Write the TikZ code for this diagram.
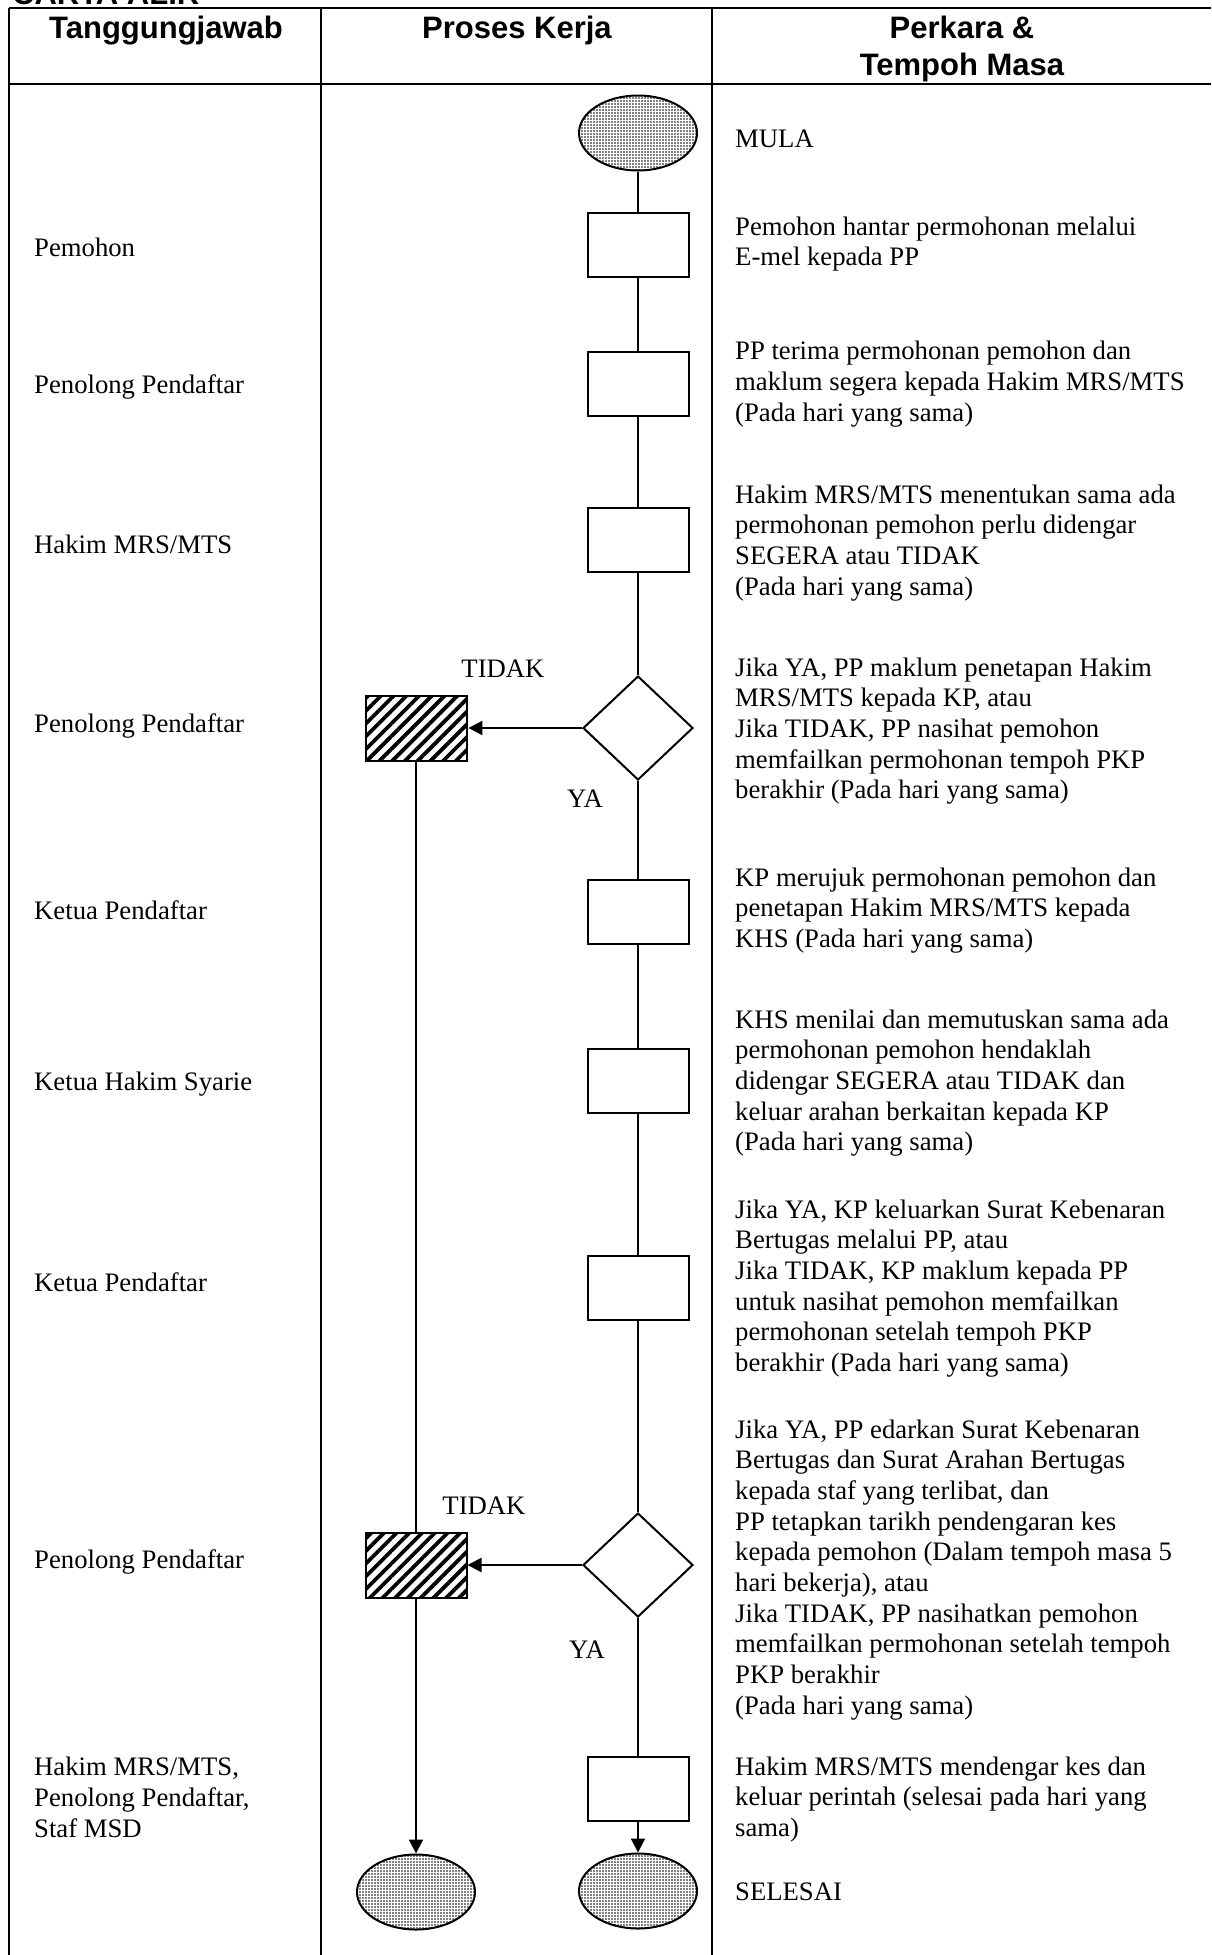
\documentclass[tikz,border=0pt]{standalone}
\usepackage{fontspec}
\setmainfont{Liberation Serif}
\newfontfamily\hdrfont{Liberation Sans}
\usetikzlibrary{shapes.geometric,arrows.meta,patterns.meta}

\begin{document}
\begin{tikzpicture}[x=1pt,y=-1pt,
  tbl/.style={line width=2.6pt},
  flow/.style={line width=2pt},
  proc/.style={draw,line width=2pt,rectangle,minimum width=101pt,minimum height=64pt,inner sep=0pt},
  hatch/.style={proc,minimum height=65pt,pattern={Lines[angle=45,distance=9pt,line width=3.8pt]}},
  term/.style={draw,line width=2pt,ellipse,minimum width=118pt,minimum height=75pt,inner sep=0pt,pattern={Dots[distance=3pt,radius=0.8pt]}},
  dec/.style={draw,line width=2pt,diamond,aspect=1.06,minimum width=110pt,minimum height=104pt,inner sep=0pt},
  body/.style={font=\fontsize{26.7pt}{30.67pt}\selectfont,inner sep=0pt},
  desc/.style={body,anchor=north west,align=left},
  lbl/.style={body,anchor=center},
  hdr/.style={font=\hdrfont\bfseries\fontsize{31pt}{35.6pt}\selectfont,inner sep=0pt,anchor=base},
  arr/.style={flow,-{Triangle[length=14pt,width=14pt]}}
]
\useasboundingbox (0,0) rectangle (1211,1955);
\fill[white] (0,0) rectangle (1211,1955);
\begin{scope}
\clip (0,0) rectangle (1211,1955);
\node[hdr,anchor=base west] (title) at (12,4) {CARTA ALIR};
\end{scope}

% table
\draw[tbl] (9,8) -- (1211,8);
\draw[tbl] (9,84) -- (1211,84);
\draw[tbl] (9,8) -- (9,1955);
\draw[tbl] (321,8) -- (321,1955);
\draw[tbl] (712,8) -- (712,1955);

% headers
\node[hdr] (h1) at (166,38) {Tanggungjawab};
\node[hdr] (h2) at (517,38) {Proses Kerja};
\node[hdr] (h3a) at (962,38) {Perkara \&};
\node[hdr] (h3b) at (962,75) {Tempoh Masa};

% flow nodes
\node[term] (start) at (638,133) {};
\node[proc] (b1) at (638,245) {};
\node[proc] (b2) at (638,383.5) {};
\node[proc] (b3) at (638,540) {};
\node[dec] (d1) at (638,728) {};
\node[hatch] (x1) at (416,728) {};
\node[proc] (b4) at (638,912) {};
\node[proc] (b5) at (638,1080.5) {};
\node[proc] (b6) at (638,1287.5) {};
\node[dec] (d2) at (638,1565) {};
\node[hatch] (x2) at (416,1565) {};
\node[proc] (b7) at (638,1788.5) {};
\node[term] (endL) at (416,1892) {};
\node[term] (endR) at (638,1891) {};

% connectors
\draw[flow] (start) -- (b1);
\draw[flow] (b1) -- (b2);
\draw[flow] (b2) -- (b3);
\draw[flow] (b3) -- (d1.north);
\draw[arr] (d1.west) -- (x1.east);
\draw[flow] (d1.south) -- (b4);
\draw[flow] (b4) -- (b5);
\draw[flow] (b5) -- (b6);
\draw[flow] (b6) -- (d2.north);
\draw[arr] (d2.west) -- (x2.east);
\draw[flow] (d2.south) -- (b7);
\draw[arr] (b7) -- (endR);
\draw[flow] (x1) -- (x2);
\draw[arr] (x2) -- (endL);

% decision labels
\node[lbl] (n1) at (503,669) {TIDAK};
\node[lbl] (y1) at (585,799) {YA};
\node[lbl] (n2) at (484,1506) {TIDAK};
\node[lbl] (y2) at (587,1650) {YA};

% responsibility column
\node[desc] (r1) at (34,235) {\strut Pemohon};
\node[desc] (r2) at (34,372) {\strut Penolong Pendaftar};
\node[desc] (r3) at (34,532) {\strut Hakim MRS/MTS};
\node[desc] (r4) at (34,711) {\strut Penolong Pendaftar};
\node[desc] (r5) at (34,898) {\strut Ketua Pendaftar};
\node[desc] (r6) at (34,1069) {\strut Ketua Hakim Syarie};
\node[desc] (r7) at (34,1270) {\strut Ketua Pendaftar};
\node[desc] (r8) at (34,1547) {\strut Penolong Pendaftar};
\node[desc] (r9) at (34,1754) {\strut Hakim MRS/MTS,\\Penolong Pendaftar,\\Staf MSD};

% description column
\node[desc] (t1) at (735,125.5) {\strut MULA};
\node[desc] (t2) at (735,213.5) {\strut Pemohon hantar permohonan melalui\\E-mel kepada PP};
\node[desc] (t3) at (735,338) {\strut PP terima permohonan pemohon dan\\maklum segera kepada Hakim MRS/MTS\\(Pada hari yang sama)};
\node[desc] (t4) at (735,481.5) {\strut Hakim MRS/MTS menentukan sama ada\\permohonan pemohon perlu didengar\\SEGERA atau TIDAK\\(Pada hari yang sama)};
\node[desc] (t5) at (735,654.5) {\strut Jika YA, PP maklum penetapan Hakim\\MRS/MTS kepada KP, atau\\Jika TIDAK, PP nasihat pemohon\\memfailkan permohonan tempoh PKP\\berakhir (Pada hari yang sama)};
\node[desc] (t6) at (735,864.5) {\strut KP merujuk permohonan pemohon dan\\penetapan Hakim MRS/MTS kepada\\KHS (Pada hari yang sama)};
\node[desc] (t7) at (735,1006.5) {\strut KHS menilai dan memutuskan sama ada\\permohonan pemohon hendaklah\\didengar SEGERA atau TIDAK dan\\keluar arahan berkaitan kepada KP\\(Pada hari yang sama)};
\node[desc] (t8) at (735,1196.5) {\strut Jika YA, KP keluarkan Surat Kebenaran\\Bertugas melalui PP, atau\\Jika TIDAK, KP maklum kepada PP\\untuk nasihat pemohon memfailkan\\permohonan setelah tempoh PKP\\berakhir (Pada hari yang sama)};
\node[desc] (t9) at (735,1416.5) {\strut Jika YA, PP edarkan Surat Kebenaran\\Bertugas dan Surat Arahan Bertugas\\kepada staf yang terlibat, dan\\PP tetapkan tarikh pendengaran kes\\kepada pemohon (Dalam tempoh masa 5\\hari bekerja), atau\\Jika TIDAK, PP nasihatkan pemohon\\memfailkan permohonan setelah tempoh\\PKP berakhir\\(Pada hari yang sama)};
\node[desc] (t10) at (735,1753.5) {\strut Hakim MRS/MTS mendengar kes dan\\keluar perintah (selesai pada hari yang\\sama)};
\node[desc] (t11) at (735,1878.5) {\strut SELESAI};
\end{tikzpicture}
\end{document}
